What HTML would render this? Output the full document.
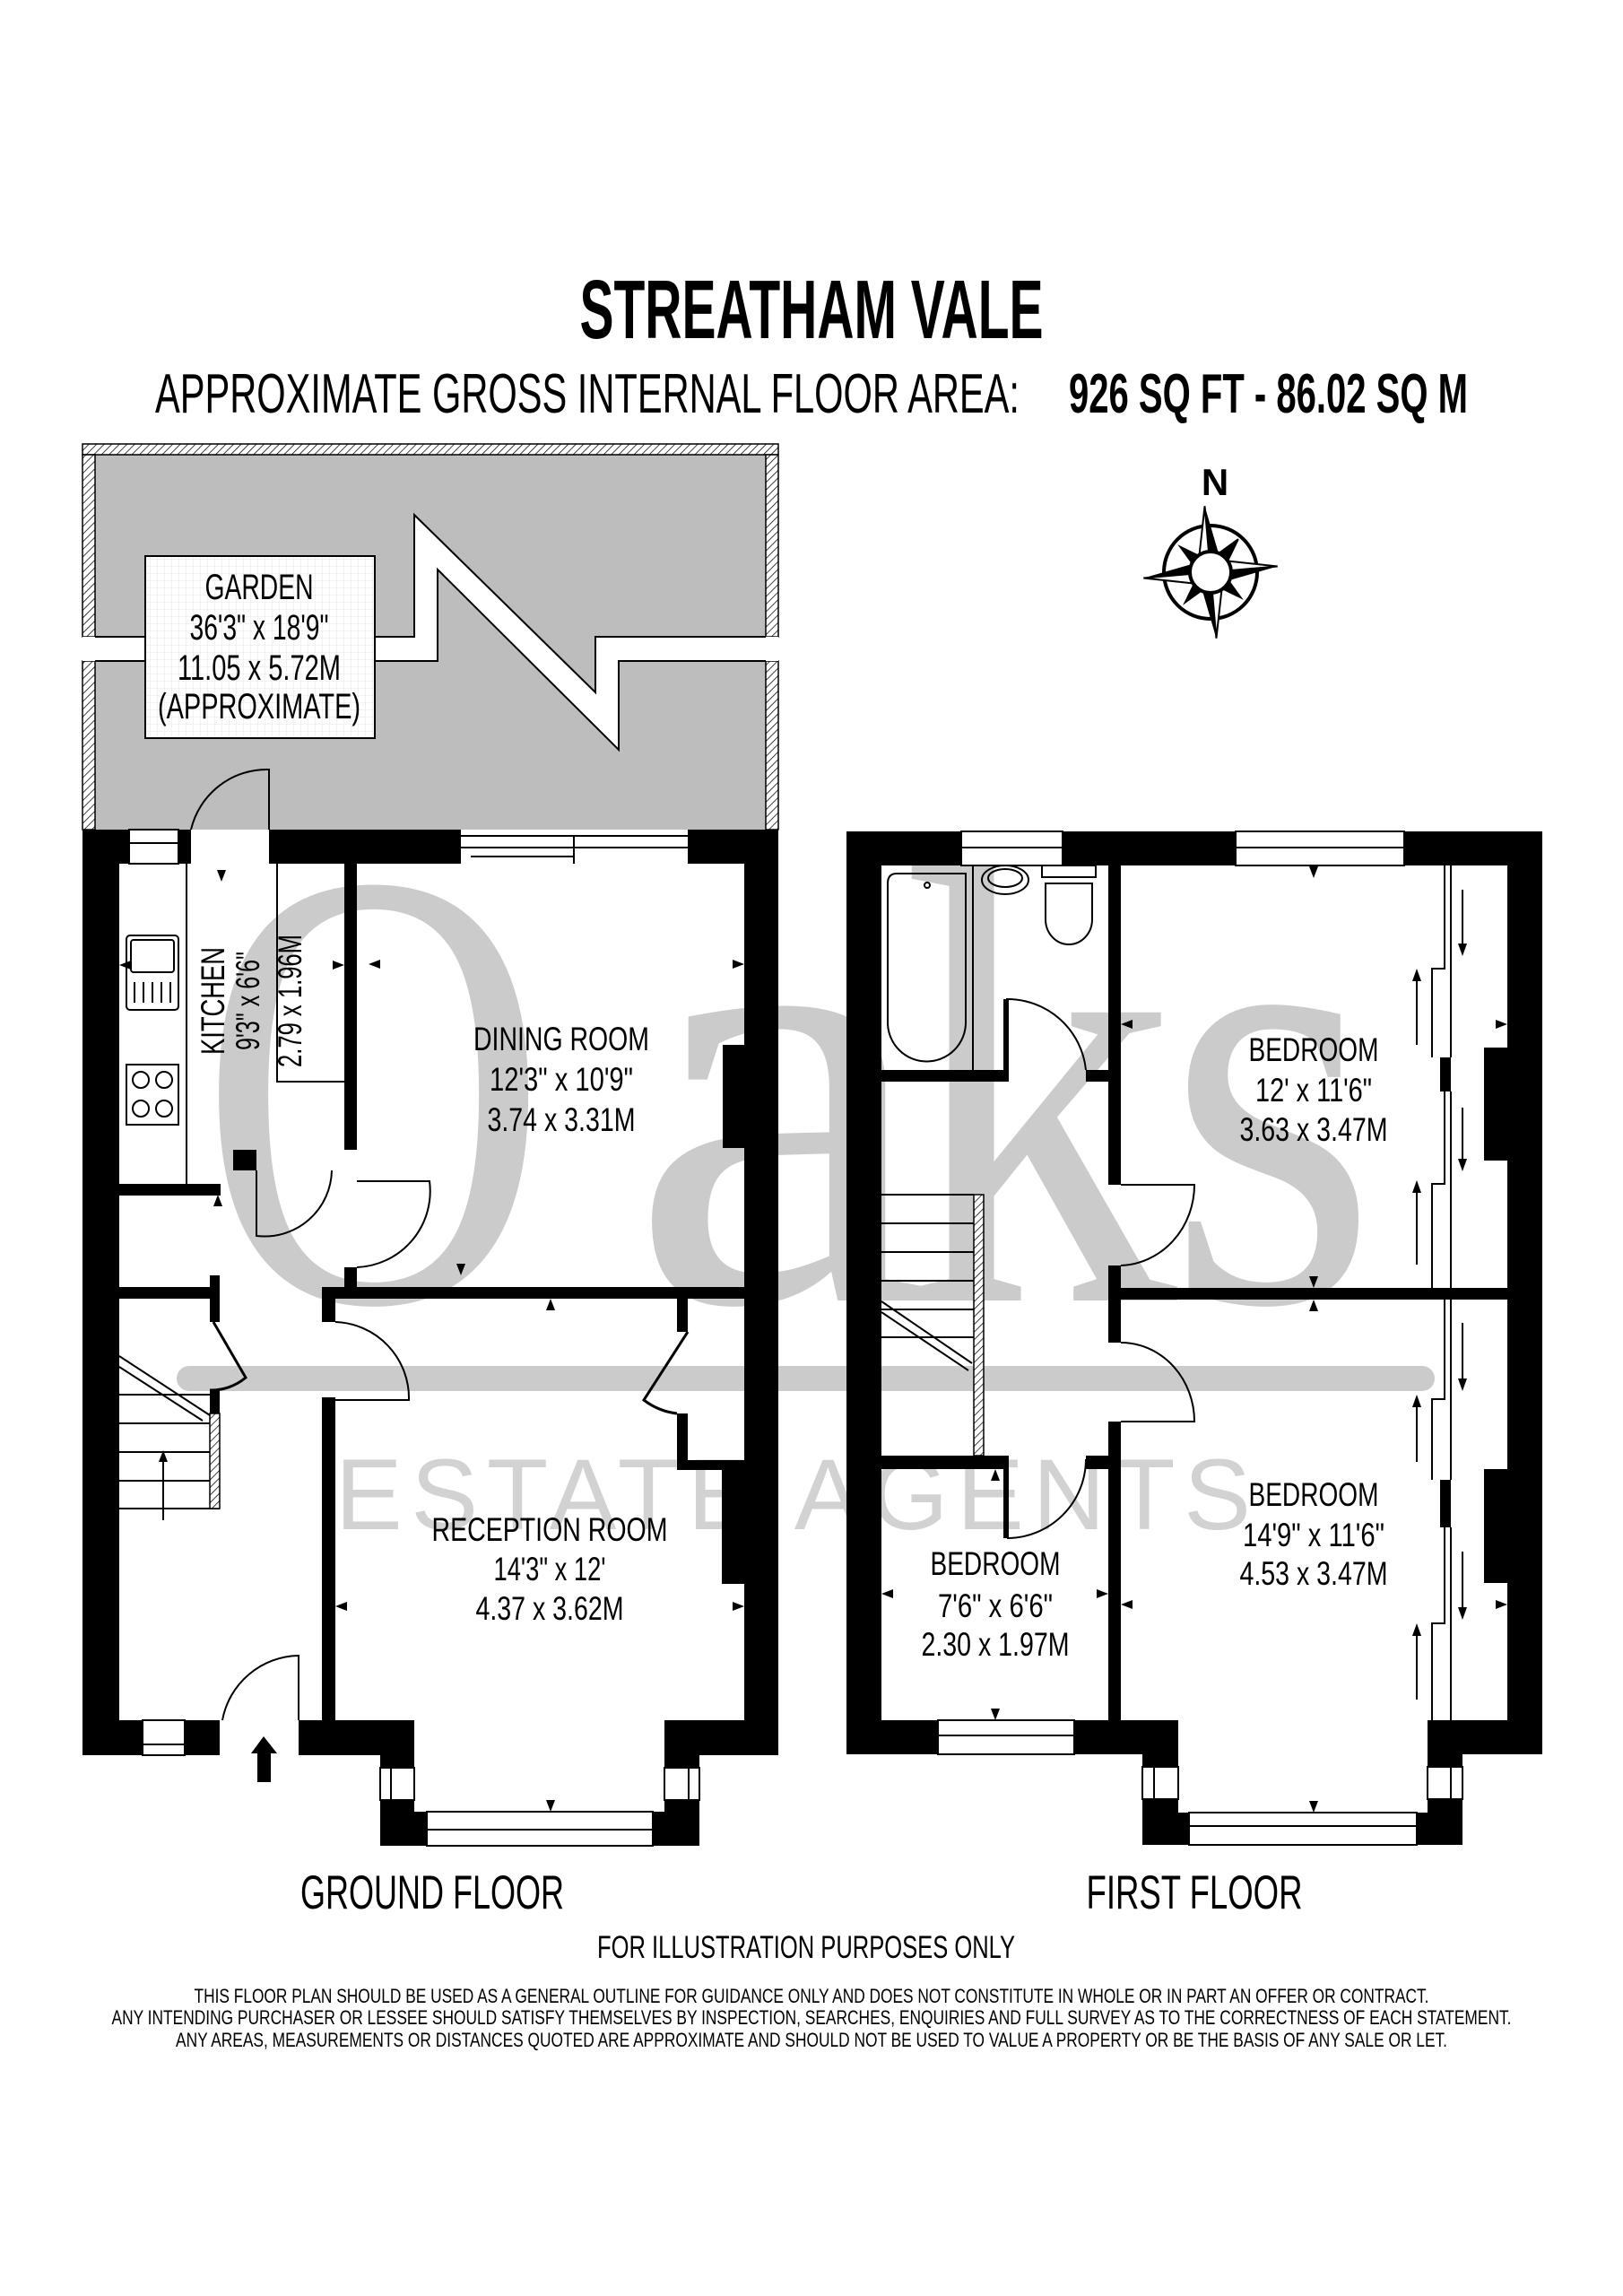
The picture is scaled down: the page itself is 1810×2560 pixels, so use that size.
<!DOCTYPE html>
<html><head><meta charset="utf-8"><style>html,body{margin:0;padding:0;background:#fff}svg{display:block}</style></head>
<body>
<svg xmlns="http://www.w3.org/2000/svg" width="1810" height="2560" viewBox="0 0 1810 2560" font-family="Liberation Sans, sans-serif">
<defs>
<pattern id="hatch" width="6" height="6" patternUnits="userSpaceOnUse" patternTransform="rotate(45)">
<rect width="6" height="6" fill="#fff"/><line x1="0" y1="0" x2="0" y2="6" stroke="#000" stroke-width="1.5"/></pattern>
<pattern id="grid" width="8" height="8" patternUnits="userSpaceOnUse"><rect width="8" height="8" fill="#fff"/><path d="M8 0V8H0" fill="none" stroke="#e6e6e6" stroke-width="1"/></pattern>
</defs>
<rect width="1810" height="2560" fill="#fff"/>

<text x="905" y="377" font-size="93" font-weight="bold" text-anchor="middle" textLength="517" lengthAdjust="spacingAndGlyphs">STREATHAM VALE</text>
<text x="173" y="460" font-size="62" textLength="964" lengthAdjust="spacingAndGlyphs">APPROXIMATE GROSS INTERNAL FLOOR AREA:</text>
<text x="1192" y="460" font-size="62" font-weight="bold" textLength="445" lengthAdjust="spacingAndGlyphs">926 SQ FT  -  86.02 SQ M</text>

<rect x="92" y="495" width="776" height="430" fill="#bdbdbd"/>
<rect x="92" y="495" width="776" height="12" fill="url(#hatch)" stroke="#000" stroke-width="1.5"/>
<rect x="92" y="507" width="14" height="203" fill="url(#hatch)" stroke="#000" stroke-width="1.5"/>
<rect x="92" y="737" width="14" height="188" fill="url(#hatch)" stroke="#000" stroke-width="1.5"/>
<rect x="854" y="507" width="14" height="203" fill="url(#hatch)" stroke="#000" stroke-width="1.5"/>
<rect x="854" y="737" width="14" height="188" fill="url(#hatch)" stroke="#000" stroke-width="1.5"/>
<polygon points="92,710 462,710 462,574 664,772 664,710 868,710 868,737 690,737 690,836 488,635 488,737 92,737" fill="#fff"/>
<polyline points="106,710 462,710 462,574 664,772 664,710 854,710" fill="none" stroke="#000" stroke-width="2"/>
<polyline points="106,737 488,737 488,635 690,836 690,737 854,737" fill="none" stroke="#000" stroke-width="2"/>
<rect x="162" y="620" width="256" height="203" fill="url(#grid)" stroke="#000" stroke-width="2"/>
<g font-size="40" text-anchor="middle">
<text x="289" y="668" textLength="121" lengthAdjust="spacingAndGlyphs">GARDEN</text>
<text x="289" y="713" textLength="155" lengthAdjust="spacingAndGlyphs">36'3" x 18'9"</text>
<text x="289" y="758" textLength="182" lengthAdjust="spacingAndGlyphs">11.05 x 5.72M</text>
<text x="289" y="801" textLength="226" lengthAdjust="spacingAndGlyphs">(APPROXIMATE)</text>
</g>

<!-- Watermark -->
<g fill="#cbcbcb" font-family="Liberation Serif, serif" font-size="700">
<text transform="translate(222,1450) scale(0.77,1)">O</text>
<text transform="translate(700,1450) scale(1.1,1)">a</text>
<text transform="translate(1005,1450) scale(0.88,1)">k</text>
<text transform="translate(1300,1450) scale(0.87,1)">s</text>
</g>
<g fill="#cbcbcb">
<rect x="197" y="1523" width="1403" height="28" rx="14"/>
<text x="374" y="1705" font-size="112" textLength="1021" lengthAdjust="spacing" fill="#d2d2d2">ESTATE AGENTS</text>
</g>

<g fill="#000">
<rect x="92" y="925" width="52" height="38"/>
<rect x="199" y="925" width="14" height="38"/>
<rect x="300" y="925" width="214" height="38"/>
<rect x="767" y="925" width="101" height="38"/>
<rect x="92" y="925" width="41" height="1032"/>
<rect x="830" y="925" width="38" height="1032"/>
<rect x="92" y="1918" width="153" height="39"/>
<rect x="333" y="1918" width="129" height="39"/>
<rect x="741" y="1918" width="127" height="39"/>
<rect x="424" y="1957" width="38" height="101"/>
<rect x="741" y="1957" width="39" height="101"/>
<rect x="424" y="2020" width="52" height="38"/>
<rect x="728" y="2020" width="52" height="38"/>
<rect x="384" y="963" width="14" height="319"/>
<rect x="384" y="1413" width="14" height="35"/>
<rect x="133" y="1320" width="113" height="13"/>
<rect x="260" y="1282" width="26" height="23"/>
<rect x="133" y="1435" width="112" height="13"/>
<rect x="234" y="1422" width="11" height="52"/>
<rect x="234" y="1550" width="11" height="26"/>
<rect x="359" y="1435" width="471" height="13"/>
<rect x="359" y="1435" width="15" height="39"/>
<rect x="359" y="1558" width="15" height="360"/>
<rect x="755" y="1448" width="12" height="37"/>
<rect x="755" y="1576" width="12" height="63"/>
<rect x="755" y="1628" width="75" height="11"/>
<rect x="805" y="1639" width="25" height="127"/>
<rect x="806" y="1165" width="24" height="115"/>
<polygon points="294,1936 309,1955 302,1955 302,1987 287,1987 287,1955 280,1955"/>
</g>
<g fill="#fff" stroke="#000" stroke-width="2">
<rect x="144" y="925" width="55" height="38"/>
<line x1="144" y1="940" x2="199" y2="940"/>
<rect x="159" y="1918" width="47" height="39"/>
<line x1="159" y1="1945" x2="206" y2="1945"/>
<rect x="476" y="2020" width="252" height="38"/>
<line x1="476" y1="2040" x2="728" y2="2040"/>
<rect x="424" y="1971" width="38" height="36"/><line x1="436" y1="1971" x2="436" y2="2007"/>
<rect x="741" y="1971" width="39" height="36"/><line x1="768" y1="1971" x2="768" y2="2007"/>
</g>
<g fill="none" stroke="#000" stroke-width="2">
<line x1="514" y1="932" x2="767" y2="932"/><line x1="514" y1="945" x2="767" y2="945"/>
<line x1="640" y1="932" x2="640" y2="963"/>
<line x1="525" y1="955" x2="640" y2="955"/>
<line x1="208" y1="963" x2="208" y2="1320"/>
<polyline points="309,963 309,1206 384,1206"/>
<path d="M300 925 V858 A87 87 0 0 0 213 925"/>
<rect x="141" y="1043" width="58" height="83" rx="4"/>
<rect x="146" y="1048" width="48" height="36" rx="3"/>
<line x1="150" y1="1095" x2="150" y2="1118"/><line x1="160" y1="1095" x2="160" y2="1118"/><line x1="170" y1="1095" x2="170" y2="1118"/><line x1="180" y1="1095" x2="180" y2="1118"/><line x1="190" y1="1095" x2="190" y2="1118"/>
<rect x="141" y="1187" width="58" height="67"/>
<circle cx="157" cy="1204" r="9"/><circle cx="183" cy="1204" r="9"/><circle cx="157" cy="1236" r="9"/><circle cx="183" cy="1236" r="9"/>
<path d="M398 1317 H479 A85 85 0 0 1 398 1413" />
<path d="M286 1305 L286 1378 A75 75 0 0 0 370 1305"/>
<path d="M238 1474 L274 1536 A60 60 0 0 1 234 1550" stroke-width="3"/>
<path d="M374 1561 H456 A85 85 0 0 0 374 1474"/>
<path d="M767 1485 L718 1561 A75 75 0 0 0 755 1576" stroke-width="3"/>
<path d="M333 1918 V1846 A88 88 0 0 0 248 1918"/>
<line x1="133" y1="1555" x2="234" y2="1555"/><line x1="133" y1="1587" x2="234" y2="1587"/><line x1="133" y1="1619" x2="234" y2="1619"/><line x1="133" y1="1651" x2="234" y2="1651"/><line x1="133" y1="1682" x2="245" y2="1682"/>
<line x1="133" y1="1512" x2="234" y2="1578"/><line x1="133" y1="1524" x2="226" y2="1584"/>
<line x1="182" y1="1695" x2="182" y2="1625"/>
</g>
<rect x="234" y="1576" width="11" height="106" fill="url(#hatch)" stroke="#000" stroke-width="1.5"/>
<polygon points="182,1617 177,1630 187,1630" fill="#000"/>
<g fill="#000">
<polygon points="247,983 252,970 242,970"/><polygon points="509,944 514,958 504,958"/>
<polygon points="133,1076 146,1071 146,1081"/><polygon points="384,1076 371,1071 371,1081"/><polygon points="411,1075 424,1070 424,1080"/>
<polygon points="830,1075 817,1070 817,1080"/><polygon points="514,1422 509,1409 519,1409"/><polygon points="614,1448 609,1461 619,1461"/>
<polygon points="374,1791 387,1786 387,1796"/><polygon points="830,1791 817,1786 817,1796"/><polygon points="614,2020 609,2007 619,2007"/>
<polygon points="243,1332 238,1345 248,1345"/>
</g>
<g font-size="37" text-anchor="middle">
<text x="626" y="1171" textLength="196" lengthAdjust="spacingAndGlyphs">DINING ROOM</text>
<text x="626" y="1216" textLength="160" lengthAdjust="spacingAndGlyphs">12'3" x 10'9"</text>
<text x="626" y="1261" textLength="165" lengthAdjust="spacingAndGlyphs">3.74 x 3.31M</text>
<text x="613" y="1718" textLength="263" lengthAdjust="spacingAndGlyphs">RECEPTION ROOM</text>
<text x="613" y="1762" textLength="125" lengthAdjust="spacingAndGlyphs">14'3" x 12'</text>
<text x="613" y="1806" textLength="165" lengthAdjust="spacingAndGlyphs">4.37 x 3.62M</text>
<text transform="translate(250,1116) rotate(-90)" textLength="120" lengthAdjust="spacingAndGlyphs">KITCHEN</text>
<text transform="translate(289,1116) rotate(-90)" textLength="110" lengthAdjust="spacingAndGlyphs">9'3" x 6'6"</text>
<text transform="translate(336,1116) rotate(-90)" textLength="148" lengthAdjust="spacingAndGlyphs">2.79 x 1.96M</text>
</g>

<g fill="#000">
<rect x="944" y="927" width="776" height="38"/>
<rect x="944" y="927" width="39" height="1029"/>
<rect x="1681" y="927" width="39" height="1029"/>
<rect x="944" y="1918" width="370" height="38"/>
<rect x="1592" y="1918" width="128" height="38"/>
<rect x="1274" y="1918" width="40" height="139"/>
<rect x="1592" y="1918" width="39" height="139"/>
<rect x="1274" y="2021" width="52" height="36"/>
<rect x="1580" y="2021" width="51" height="36"/>
<rect x="1236" y="965" width="14" height="356"/>
<rect x="1236" y="1411" width="14" height="86"/>
<rect x="1236" y="1585" width="14" height="333"/>
<rect x="1250" y="1436" width="431" height="13"/>
<rect x="983" y="1193" width="140" height="13"/>
<rect x="1211" y="1193" width="25" height="13"/>
<rect x="1119" y="1114" width="6" height="92"/>
<rect x="983" y="1623" width="140" height="15"/>
<rect x="1211" y="1623" width="25" height="15"/>
<rect x="1119" y="1623" width="6" height="92"/>
<rect x="1655" y="1168" width="26" height="126"/>
<rect x="1655" y="1638" width="26" height="127"/>
<rect x="1606" y="1179" width="12" height="38"/>
<rect x="1606" y="1650" width="12" height="53"/>
</g>
<g fill="#fff" stroke="#000" stroke-width="2">
<rect x="1072" y="927" width="113" height="38"/><line x1="1072" y1="945" x2="1185" y2="945"/>
<rect x="1378" y="927" width="188" height="38"/><line x1="1378" y1="945" x2="1566" y2="945"/>
<rect x="1046" y="1918" width="152" height="38"/><line x1="1046" y1="1935" x2="1198" y2="1935"/>
<rect x="1326" y="2021" width="254" height="36"/><line x1="1326" y1="2036" x2="1580" y2="2036"/>
<rect x="1274" y="1970" width="40" height="36"/><line x1="1287" y1="1970" x2="1287" y2="2006"/>
<rect x="1592" y="1970" width="39" height="36"/><line x1="1618" y1="1970" x2="1618" y2="2006"/>
</g>
<g fill="none" stroke="#000" stroke-width="2">
<path d="M990 985 Q990 974 1000 974 H1077 V1140 A43 43 0 0 1 990 1140 Z"/>
<line x1="1085" y1="965" x2="1085" y2="1193"/>
<circle cx="1034" cy="987" r="3"/>
<ellipse cx="1121" cy="981" rx="26" ry="16"/><ellipse cx="1121" cy="979" rx="19" ry="10"/>
<rect x="1162" y="965" width="60" height="13"/>
<path d="M1166 985 H1218 V1025 A26 28 0 0 1 1166 1025 Z"/>
<path d="M1123 1193 V1114 A88 88 0 0 1 1211 1193"/>
<path d="M1250 1321 H1332 A85 90 0 0 1 1250 1411"/>
<path d="M1250 1497 A82 88 0 0 1 1332 1585 H1250"/>
<path d="M1123 1715 A88 88 0 0 0 1211 1627"/>
<line x1="983" y1="1332" x2="1086" y2="1332"/><line x1="983" y1="1364" x2="1086" y2="1364"/><line x1="983" y1="1396" x2="1086" y2="1396"/><line x1="983" y1="1428" x2="1086" y2="1428"/><line x1="983" y1="1460" x2="1086" y2="1460"/><line x1="983" y1="1491" x2="1086" y2="1491"/>
<line x1="983" y1="1451" x2="1084" y2="1520"/><line x1="983" y1="1463" x2="1080" y2="1528"/>
<polyline points="1611,965 1611,1080 1597,1080 1597,1179"/>
<polyline points="1618,965 1618,1179"/>
<polyline points="1611,1217 1611,1320 1597,1320 1597,1436"/>
<polyline points="1618,1217 1618,1436"/>
<polyline points="1611,1449 1611,1560 1597,1560 1597,1650"/>
<polyline points="1618,1449 1618,1650"/>
<polyline points="1611,1703 1611,1810 1597,1810 1597,1918"/>
<polyline points="1618,1703 1618,1918"/>
<line x1="1631" y1="992" x2="1631" y2="1060"/><line x1="1580" y1="1085" x2="1580" y2="1165"/>
<line x1="1631" y1="1235" x2="1631" y2="1300"/><line x1="1580" y1="1320" x2="1580" y2="1410"/>
<line x1="1631" y1="1475" x2="1631" y2="1545"/><line x1="1580" y1="1560" x2="1580" y2="1630"/>
<line x1="1631" y1="1730" x2="1631" y2="1800"/><line x1="1580" y1="1815" x2="1580" y2="1895"/>
</g>
<rect x="1086" y="1332" width="11" height="291" fill="url(#hatch)" stroke="#000" stroke-width="1.5"/>
<g fill="#000">
<polygon points="1631,1066 1626,1052 1636,1052"/><polygon points="1580,1080 1575,1094 1585,1094"/>
<polygon points="1631,1306 1626,1292 1636,1292"/><polygon points="1580,1316 1575,1330 1585,1330"/>
<polygon points="1631,1551 1626,1537 1636,1537"/><polygon points="1580,1555 1575,1569 1585,1569"/>
<polygon points="1631,1806 1626,1792 1636,1792"/><polygon points="1580,1810 1575,1824 1585,1824"/>
<polygon points="1465,979 1460,966 1470,966"/><polygon points="1465,1436 1460,1423 1470,1423"/><polygon points="1465,1449 1460,1462 1470,1462"/>
<polygon points="1250,1142 1263,1137 1263,1147"/><polygon points="1681,1142 1668,1137 1668,1147"/>
<polygon points="1250,1789 1263,1784 1263,1794"/><polygon points="1681,1789 1668,1784 1668,1794"/>
<polygon points="983,1777 996,1772 996,1782"/><polygon points="1236,1777 1223,1772 1223,1782"/>
<polygon points="1110,1638 1105,1651 1115,1651"/><polygon points="1110,1918 1105,1905 1115,1905"/>
<polygon points="1465,2021 1460,2008 1470,2008"/>
</g>
<g font-size="37" text-anchor="middle">
<text x="1465" y="1183" textLength="145" lengthAdjust="spacingAndGlyphs">BEDROOM</text>
<text x="1465" y="1228" textLength="130" lengthAdjust="spacingAndGlyphs">12' x 11'6"</text>
<text x="1465" y="1272" textLength="165" lengthAdjust="spacingAndGlyphs">3.63 x 3.47M</text>
<text x="1465" y="1679" textLength="145" lengthAdjust="spacingAndGlyphs">BEDROOM</text>
<text x="1465" y="1724" textLength="158" lengthAdjust="spacingAndGlyphs">14'9" x 11'6"</text>
<text x="1465" y="1767" textLength="165" lengthAdjust="spacingAndGlyphs">4.53 x 3.47M</text>
<text x="1110" y="1756" textLength="145" lengthAdjust="spacingAndGlyphs">BEDROOM</text>
<text x="1110" y="1803" textLength="128" lengthAdjust="spacingAndGlyphs">7'6" x 6'6"</text>
<text x="1110" y="1846" textLength="165" lengthAdjust="spacingAndGlyphs">2.30 x 1.97M</text>
</g>

<g transform="translate(1350,638)">
<circle r="52" fill="none" stroke="#000" stroke-width="4"/>
<g transform="rotate(-5)">
<polygon points="0,-74 -12,-14 0,-20" fill="#fff" stroke="#000" stroke-width="2"/><polygon points="0,-74 12,-14 0,-20" fill="#000"/>
<polygon points="0,74 12,14 0,20" fill="#fff" stroke="#000" stroke-width="2"/><polygon points="0,74 -12,14 0,20" fill="#000"/>
<polygon points="-75,0 -14,-12 -20,0" fill="#000"/><polygon points="-75,0 -14,12 -20,0" fill="#fff" stroke="#000" stroke-width="2"/>
<polygon points="75,0 14,12 20,0" fill="#000"/><polygon points="75,0 14,-12 20,0" fill="#fff" stroke="#000" stroke-width="2"/>
<g transform="rotate(45)">
<polygon points="0,-48 -9,-12 9,-12" fill="#000" stroke="#000" stroke-width="2"/>
<polygon points="0,48 -9,12 9,12" fill="#000"/>
<polygon points="-48,0 -12,-9 -12,9" fill="#000"/>
<polygon points="48,0 12,-9 12,9" fill="#000"/>
</g>
</g>
<circle r="23" fill="#fff" stroke="#000" stroke-width="4"/>
</g>
<text x="1355" y="552" font-size="42" font-weight="bold" text-anchor="middle">N</text>

<text x="482" y="2128" font-size="53" text-anchor="middle" textLength="294" lengthAdjust="spacingAndGlyphs">GROUND FLOOR</text>
<text x="1332" y="2128" font-size="53" text-anchor="middle" textLength="241" lengthAdjust="spacingAndGlyphs">FIRST FLOOR</text>
<text x="899" y="2183" font-size="35" text-anchor="middle" textLength="466" lengthAdjust="spacingAndGlyphs">FOR ILLUSTRATION PURPOSES ONLY</text>
<g font-size="22" text-anchor="middle">
<text x="905" y="2233" textLength="1377" lengthAdjust="spacingAndGlyphs">THIS FLOOR PLAN SHOULD BE USED AS A GENERAL OUTLINE FOR GUIDANCE ONLY AND DOES NOT CONSTITUTE IN WHOLE OR IN PART AN OFFER OR CONTRACT.</text>
<text x="905" y="2257" textLength="1561" lengthAdjust="spacingAndGlyphs">ANY INTENDING PURCHASER OR LESSEE SHOULD SATISFY THEMSELVES BY INSPECTION, SEARCHES, ENQUIRIES AND FULL SURVEY AS TO THE CORRECTNESS OF EACH STATEMENT.</text>
<text x="905" y="2282" textLength="1418" lengthAdjust="spacingAndGlyphs">ANY AREAS, MEASUREMENTS OR DISTANCES QUOTED ARE APPROXIMATE AND SHOULD NOT BE USED TO VALUE A PROPERTY OR BE THE BASIS OF ANY SALE OR LET.</text>
</g>
</svg>
</body></html>
